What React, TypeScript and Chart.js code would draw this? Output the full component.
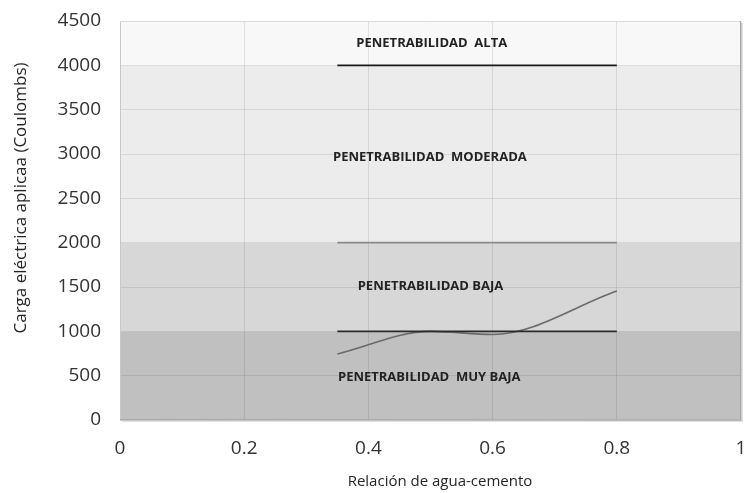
import React, { useEffect, useRef } from "react";
import { Chart, registerables } from "chart.js";

Chart.register(...registerables);

// Measured curve
const ratioX = [0.35, 0.5, 0.6, 0.8];
const chargeY = [745, 1000, 965, 1455];

// Threshold lines
const lineStart = 0.35;
const lineEnd = 0.8;
const thresholds = [4000, 2000, 1000];
const thresholdColors = ["#1a1a1a", "#8a8a8a", "#2a2a2a"];

// Background bands
const bandFrom = [0, 1000, 2000, 4000];
const bandTo = [1000, 2000, 4000, 4500];
const bandColors = ["#c0c0c0", "#d7d7d7", "#ececec", "#f8f8f8"];

// Zone labels
const zoneLabels = [
  "PENETRABILIDAD  ALTA",
  "PENETRABILIDAD  MODERADA",
  "PENETRABILIDAD BAJA",
  "PENETRABILIDAD  MUY BAJA",
];
const zoneLabelX = [0.502, 0.499, 0.5, 0.498];
const zoneLabelY = [4252, 2966, 1511, 485];

const xTitle = "Relación de agua-cemento";
const yTitle = "Carga eléctrica aplicaa (Coulombs)";

const FONT = "'Open Sans', sans-serif";

const bandsPlugin = {
  id: "bands",
  beforeDraw(chart: any) {
    const { ctx, chartArea, scales } = chart;
    const y = scales.y;
    ctx.save();
    for (let i = 0; i < bandFrom.length; i++) {
      const top = y.getPixelForValue(bandTo[i]);
      const bot = y.getPixelForValue(bandFrom[i]);
      ctx.fillStyle = bandColors[i];
      ctx.fillRect(chartArea.left, top, chartArea.right - chartArea.left, bot - top);
    }
    ctx.fillStyle = "#e2e2e2";
    ctx.fillRect(chartArea.left + 2, chartArea.bottom, chartArea.right - chartArea.left, 2);
    ctx.fillRect(chartArea.right, chartArea.top + 2, 2, chartArea.bottom - chartArea.top);
    ctx.restore();
  },
  afterDraw(chart: any) {
    const { ctx, chartArea } = chart;
    ctx.save();
    ctx.lineWidth = 1;
    ctx.strokeStyle = "#dadada";
    ctx.beginPath();
    ctx.moveTo(chartArea.left, chartArea.top + 0.5);
    ctx.lineTo(chartArea.right, chartArea.top + 0.5);
    ctx.stroke();
    ctx.strokeStyle = "#a8a8a8";
    ctx.beginPath();
    ctx.moveTo(chartArea.right - 0.5, chartArea.top);
    ctx.lineTo(chartArea.right - 0.5, chartArea.bottom);
    ctx.lineTo(chartArea.left, chartArea.bottom - 0.5);
    ctx.stroke();

    // axis titles
    ctx.fillStyle = "#262626";
    ctx.textAlign = "center";
    ctx.textBaseline = "middle";
    ctx.font = "15px " + FONT;
    ctx.fillText(xTitle, 440, 482);
    ctx.translate(21, 198);
    ctx.rotate(-Math.PI / 2);
    ctx.font = "17px " + FONT;
    ctx.fillText(yTitle, 0, 0);
    ctx.restore();
  },
};

const labelsPlugin = {
  id: "zoneLabels",
  afterDatasetsDraw(chart: any) {
    const { ctx, scales } = chart;
    ctx.save();
    ctx.font = "bold 13px " + FONT;
    ctx.fillStyle = "#222222";
    ctx.textAlign = "center";
    ctx.textBaseline = "middle";
    for (let i = 0; i < zoneLabels.length; i++) {
      ctx.fillText(
        zoneLabels[i],
        scales.x.getPixelForValue(zoneLabelX[i]),
        scales.y.getPixelForValue(zoneLabelY[i])
      );
    }
    ctx.restore();
  },
};

export default function App() {
  const ref = useRef<HTMLCanvasElement>(null);
  useEffect(() => {
    document.body.style.margin = "0";
    const datasets: any[] = thresholds.map((t, i) => ({
      data: [
        { x: lineStart, y: t },
        { x: lineEnd, y: t },
      ],
      borderColor: thresholdColors[i],
      borderWidth: 1.6,
      pointRadius: 0,
      fill: false,
    }));
    datasets.push({
      data: ratioX.map((x, i) => ({ x, y: chargeY[i] })),
      borderColor: "#6a6a6a",
      borderWidth: 1.6,
      pointRadius: 0,
      cubicInterpolationMode: "monotone",
      fill: false,
    });
    const chart = new Chart(ref.current!, {
      type: "line",
      data: { datasets },
      options: {
        animation: false,
        responsive: false,
        layout: { padding: { top: 21, right: 4, bottom: 0, left: 0 } },
        plugins: { legend: { display: false }, tooltip: { enabled: false } },
        scales: {
          x: {
            type: "linear",
            min: 0,
            max: 1,
            afterFit: (s: any) => {
              s.height = 73;
              s.paddingLeft = 0;
              s.paddingRight = 0;
            },
            ticks: {
              stepSize: 0.2,
              color: "#333333",
              font: { size: 19, family: FONT },
              padding: 17,
              callback: (v: any) => String(v),
            },
            grid: { color: "rgba(0,0,0,0.09)", drawTicks: false },
            border: { color: "#c8c8c8" },
          },
          y: {
            min: 0,
            max: 4500,
            afterFit: (s: any) => {
              s.width = 120;
              s.paddingTop = 0;
              s.paddingBottom = 0;
            },
            ticks: {
              stepSize: 500,
              color: "#333333",
              font: { size: 19, family: FONT },
              padding: 19,
              callback: (v: any) => String(v),
            },
            grid: { color: "rgba(0,0,0,0.09)", drawTicks: false },
            border: { color: "#c8c8c8" },
          },
        },
      },
      plugins: [bandsPlugin, labelsPlugin],
    });
    return () => chart.destroy();
  }, []);
  return <canvas ref={ref} width={745} height={493} />;
}
